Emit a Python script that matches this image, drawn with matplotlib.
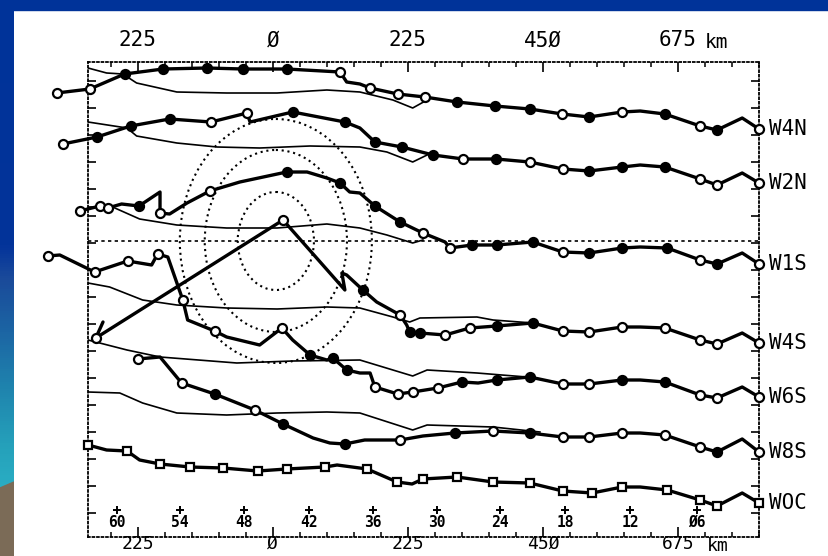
import numpy as np
import matplotlib
matplotlib.use("Agg")
import matplotlib.pyplot as plt
import matplotlib.transforms as mtransforms
from matplotlib.patches import Ellipse, Polygon
from matplotlib.ticker import MultipleLocator, FixedLocator
from matplotlib.colors import LinearSegmentedColormap

plt.rcParams["font.family"] = ["DejaVu Sans Mono", "DejaVu Sans"]

# ---- values ----
# x: distance along the section [km]; y: vertical offset units (plotted top-down)
# flags: o = open marker, f = filled marker, - = no marker
names = ["W4N", "W2N", "W1S", "W4S", "W6S", "W8S", "WOC"]

w4n_x = [-360, -305, -247, -183, -110, -50, 23, 112, 123, 145, 162, 208, 253, 307, 370, 428, 482, 527, 582, 612, 653, 712, 740, 782, 810]
w4n_y = [93, 89, 74, 69, 68, 69, 69, 72, 82, 84, 88, 94, 97, 102, 106, 109, 114, 117, 112, 111, 114, 126, 130, 118, 129]
w4n_f = "oofffffo--ooofffofo-fof-o"

w2n_x = [-350, -293, -237, -172, -103, -43, -38, 33, 120, 145, 170, 215, 267, 317, 372, 428, 483, 527, 582, 612, 653, 712, 740, 782, 810]
w2n_y = [144, 137, 126, 119, 122, 113, 122, 112, 122, 128, 142, 147, 155, 159, 159, 162, 169, 171, 167, 165, 167, 179, 185, 173, 183]
w2n_f = "offfoo-ff-fffofooff-foo-o"

w1s_x = [-322, -288, -275, -252, -223, -188, -188, -172, -143, -105, -55, 23, 57, 90, 112, 128, 145, 170, 212, 250, 287, 295, 332, 373, 433, 483, 527, 582, 612, 657, 712, 740, 782, 810]
w1s_y = [211, 206, 208, 204, 206, 192, 213, 214, 203, 191, 182, 172, 172, 178, 183, 192, 193, 206, 222, 233, 242, 248, 245, 245, 242, 252, 253, 248, 247, 248, 260, 264, 253, 264]
w1s_f = "ooo-f-o--o-f--f--ffo-offfoff-fof-o"

# W4S starts with the storm track (tick, start, apex, hook)
w4s_x = [-283, -295, 17, 120, 115, 123, 150, 173, 212, 223, 228, 245, 287, 328, 373, 433, 483, 527, 582, 612, 653, 712, 740, 782, 810]
w4s_y = [322, 338, 220, 290, 273, 275, 290, 302, 315, 325, 332, 333, 335, 328, 326, 323, 331, 332, 327, 327, 328, 340, 344, 333, 343]
w4s_f = "-oo---f-o-ffooffooo-ooo-o"

w6s_x = [-375, -355, -297, -242, -202, -192, -175, -150, -142, -97, -77, -22, 15, 33, 62, 90, 100, 123, 145, 162, 170, 208, 233, 275, 315, 342, 373, 428, 483, 527, 582, 612, 653, 712, 740, 782, 810]
w6s_y = [256, 255, 272, 261, 265, 254, 257, 300, 320, 331, 337, 345, 328, 340, 355, 360, 358, 370, 373, 373, 387, 394, 392, 388, 382, 383, 380, 377, 384, 384, 380, 380, 382, 395, 398, 387, 397]
w6s_f = "o-oo-o-o-o--o-f-ff--oooof-ffoof-foo-o"

w8s_x = [-225, -188, -152, -97, -30, 17, 67, 95, 120, 153, 212, 250, 303, 367, 428, 483, 527, 582, 612, 653, 712, 740, 782, 810]
w8s_y = [359, 357, 383, 394, 410, 424, 438, 443, 444, 440, 440, 436, 433, 431, 433, 437, 437, 433, 433, 435, 447, 452, 439, 452]
w8s_f = "o-ofof--f-o-fofooo-oof-o"

woc_x = [-308, -277, -243, -222, -188, -138, -83, -25, 23, 87, 107, 157, 207, 232, 250, 307, 367, 428, 483, 532, 582, 612, 657, 712, 740, 782, 810]
woc_y = [445, 450, 451, 460, 464, 467, 468, 471, 469, 467, 465, 469, 482, 484, 479, 477, 482, 483, 491, 493, 487, 487, 490, 500, 506, 493, 503]
woc_f = "o-o-oooooo-oo-ooooooo-ooo-o"

# thin companion curves
thin_w4n_x = [-308, -277, -250, -227, -160, -77, 7, 90, 145, 200, 233, 257]
thin_w4n_y = [68, 73, 74, 83, 92, 93, 93, 90, 92, 100, 108, 100]
thin_w2n_x = [-308, -243, -227, -160, -93, -22, 62, 145, 190, 233, 257]
thin_w2n_y = [122, 128, 136, 143, 147, 148, 146, 147, 152, 162, 155]
thin_w1s_x = [-308, -267, -222, -160, -77, 7, 90, 145, 190, 233, 250]
thin_w1s_y = [207, 207, 219, 225, 228, 228, 224, 228, 235, 243, 240]
thin_w4s_x = [-308, -272, -217, -160, -77, 7, 90, 145, 200, 228, 245, 340, 367, 433]
thin_w4s_y = [283, 287, 300, 305, 308, 309, 307, 308, 317, 322, 318, 317, 320, 323]
thin_w6s_x = [-308, -243, -188, -60, 33, 145, 233, 257, 340, 423]
thin_w6s_y = [340, 350, 357, 363, 361, 360, 376, 370, 373, 377]
thin_w8s_x = [-308, -255, -217, -160, -77, 7, 90, 145, 233, 257, 367, 445]
thin_w8s_y = [392, 393, 403, 413, 415, 413, 412, 413, 430, 425, 427, 432]

# dotted range rings around the storm centre
ring_center = (5, 241)
ring_w = [127, 237, 320]
ring_h = [98, 182, 244]
ref_level = 241

# distance axis and forecast hours
km_ticks = [-225, 0, 225, 450, 675]
km_labels = ["225", "Ø", "225", "45Ø", "675"]
hour_x = [-260, -155, -48, 60, 167, 273, 378, 487, 595, 707]
hour_labels = ["60", "54", "48", "42", "36", "30", "24", "18", "12", "Ø6"]

# ---- figure ----
fig = plt.figure(figsize=(8.29, 5.56), dpi=100, facecolor="white")

# slide frame: top bar and left strip
fig.patches.append(plt.Rectangle((0, 1 - 10 / 556), 1, 10 / 556, transform=fig.transFigure,
                                 color="#003399", zorder=0))
sax = fig.add_axes([0, 0, 14 / 829, 1])
stops = [(0.0, "#003399"), (0.44, "#03339a"), (0.50, "#1a4a9a"), (0.60, "#1c66a4"),
         (0.70, "#1f84ae"), (0.80, "#25a0ba"), (0.88, "#2aaec4"), (1.0, "#2aaec4")]
strip = LinearSegmentedColormap.from_list("strip", stops)
sax.imshow(np.linspace(0, 1, 556)[:, None], cmap=strip, aspect="auto",
           extent=[0, 1, 0, 1], origin="upper")
sax.add_patch(Polygon([(0, 0), (1, 0), (1, 1 - 482 / 556), (0, 1 - 488 / 556)],
                      closed=True, color="#7b6b57"))
sax.set_xlim(0, 1)
sax.set_ylim(0, 1)
sax.axis("off")

ax = fig.add_axes([88 / 829, 19 / 556, 671 / 829, 475 / 556])
ax.set_xlim(-308, 810)
ax.set_ylim(537, 62)

lw_thick = 2.4
for tx, ty in [(thin_w4n_x, thin_w4n_y), (thin_w2n_x, thin_w2n_y), (thin_w1s_x, thin_w1s_y),
               (thin_w4s_x, thin_w4s_y), (thin_w6s_x, thin_w6s_y), (thin_w8s_x, thin_w8s_y)]:
    ax.plot(tx, ty, color="k", lw=1.2, zorder=3)

series = [(w4n_x, w4n_y, w4n_f, "o"), (w2n_x, w2n_y, w2n_f, "o"), (w1s_x, w1s_y, w1s_f, "o"),
          (w4s_x, w4s_y, w4s_f, "o"), (w6s_x, w6s_y, w6s_f, "o"), (w8s_x, w8s_y, w8s_f, "o"),
          (woc_x, woc_y, woc_f, "s")]

for name, (sx, sy, fl, mk) in zip(names, series):
    sx = np.asarray(sx)
    sy = np.asarray(sy)
    fl = np.array(list(fl))
    ax.plot(sx, sy, color="k", lw=lw_thick, clip_on=False, zorder=4,
            solid_joinstyle="round", solid_capstyle="round")
    for key, fc in (("o", "white"), ("f", "black")):
        m = fl == key
        ax.plot(sx[m], sy[m], ls="none", marker=mk, ms=6.5 if mk == "o" else 6,
                mfc=fc, mec="k", mew=1.6, clip_on=False, zorder=5)
    ax.annotate(name, xy=(sx[-1], sy[-1]), xytext=(7, 0), textcoords="offset points",
                ha="left", va="center", fontsize=15, annotation_clip=False)

# range rings and reference level
for w, h in zip(ring_w, ring_h):
    ax.add_patch(Ellipse(ring_center, w, h, fill=False, color="k", lw=1.5,
                         ls=(0, (1, 1.8)), zorder=2))
ax.axhline(ref_level, color="k", lw=1.2, ls=(0, (2, 2)), zorder=2)

# forecast hour markers along the bottom
tr = mtransforms.blended_transform_factory(ax.transData, ax.transAxes)
ax.plot(hour_x, [0.057] * len(hour_x), ls="none", marker="+", ms=6, mew=1.4,
        color="k", transform=tr)
for hx, hl in zip(hour_x, hour_labels):
    ax.text(hx, 0.031, hl, transform=tr, ha="center", va="center",
            fontsize=10.5, fontweight="bold")

# dotted frame and ticks
for sp in ax.spines.values():
    sp.set_linestyle((0, (1, 1.5)))
    sp.set_linewidth(1.3)

ax.xaxis.set_major_locator(FixedLocator(km_ticks))
ax.xaxis.set_minor_locator(MultipleLocator(45))
ax.set_xticklabels(km_labels)
ax.tick_params(axis="x", which="major", direction="in", length=7, width=1.2,
               labelsize=13, pad=-1.5)
ax.tick_params(axis="x", which="minor", direction="in", length=3.5, width=1.1)
ax.yaxis.set_major_locator(MultipleLocator(27))
ax.tick_params(axis="y", which="both", direction="in", left=True, right=True,
               labelleft=False, length=6, width=1.2)

top = ax.secondary_xaxis("top")
top.xaxis.set_major_locator(FixedLocator(km_ticks))
top.xaxis.set_minor_locator(MultipleLocator(45))
top.set_xticklabels(km_labels)
top.tick_params(axis="x", which="major", direction="in", length=7, width=1.2,
                labelsize=15, pad=8.5)
top.tick_params(axis="x", which="minor", direction="in", length=3.5, width=1.1)
top.spines["top"].set_visible(False)

ax.text(740, 1.0295, "km", transform=tr, ha="center", va="baseline", fontsize=14)
ax.text(742, -0.029, "km", transform=tr, ha="center", va="baseline", fontsize=13)

fig.savefig("out.png", dpi=100, facecolor="white")
plt.close(fig)
